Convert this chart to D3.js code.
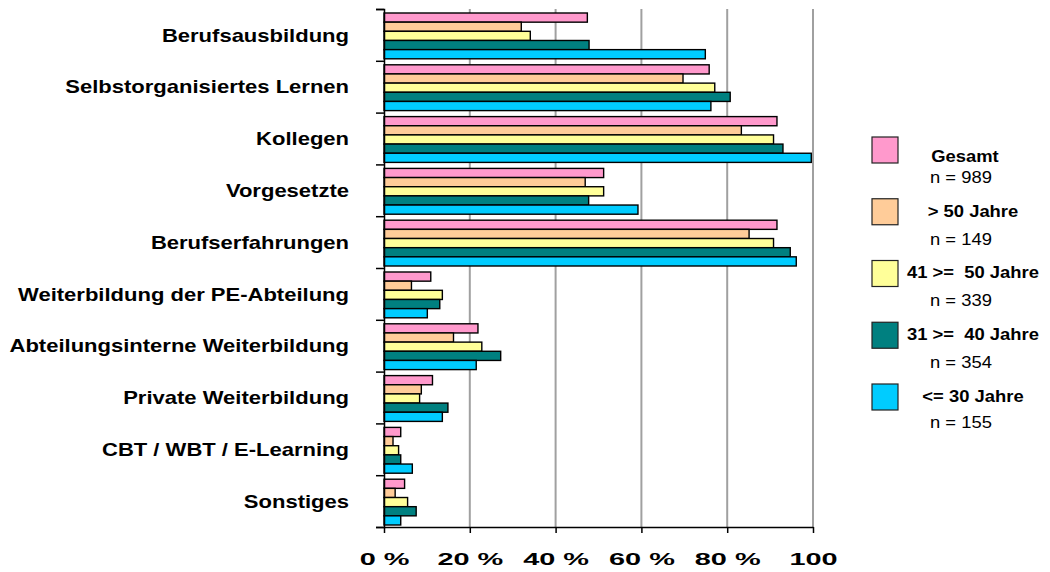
<!DOCTYPE html>
<html>
<head>
<meta charset="utf-8">
<script src="https://cdn.jsdelivr.net/npm/d3@7"></script>
<style>
  body { margin: 0; background: #fff; }
  text { font-family: "Liberation Sans", Arial, sans-serif; }
</style>
</head>
<body>
<script>
// categories, top to bottom
var categories = [
  "Berufsausbildung",
  "Selbstorganisiertes Lernen",
  "Kollegen",
  "Vorgesetzte",
  "Berufserfahrungen",
  "Weiterbildung der PE-Abteilung",
  "Abteilungsinterne Weiterbildung",
  "Private Weiterbildung",
  "CBT / WBT / E-Learning",
  "Sonstiges"
]

var seriesNames = ["Gesamt", "> 50 Jahre", "41 >=  50 Jahre", "31 >=  40 Jahre", "<= 30 Jahre"]
var seriesN = [989, 149, 339, 354, 155]
var seriesColors = ["#ff99cc", "#ffcc99", "#ffff99", "#008080", "#00ccff"]

// percent values per series, in category order
var gesamt   = [47.4, 75.8, 91.6, 51.2, 91.6, 10.9, 21.9, 11.3, 3.9, 4.8]
var ueber50  = [32.0, 69.7, 83.3, 46.9, 85.1, 6.4, 16.2, 8.7, 2.1, 2.6]
var j41bis50 = [34.1, 77.1, 90.8, 51.2, 90.8, 13.6, 22.8, 8.3, 3.4, 5.5]
var j31bis40 = [47.8, 80.7, 93.0, 47.7, 94.7, 13.0, 27.2, 14.9, 3.9, 7.5]
var bis30    = [74.9, 76.2, 99.6, 59.2, 96.1, 10.1, 21.5, 13.6, 6.6, 3.9]

var xTicks = [0, 20, 40, 60, 80, 100];

(function () {

var seriesValues = [gesamt, ueber50, j41bis50, j31bis40, bis30]

var width = 1050, height = 572
var plotLeft = 384, plotRight = 813, plotTop = 9, plotBottom = 527

var svg = d3.select("body").append("svg")
  .attr("width", width)
  .attr("height", height)

var x = d3.scaleLinear().domain([0, 100]).range([plotLeft, plotRight])
var y = d3.scaleBand().domain(categories).range([plotTop, plotBottom])
var ySub = d3.scaleBand().domain(seriesNames).range([4, y.bandwidth() - 2])
var yBounds = d3.scaleLinear().domain([0, categories.length]).range([plotTop, plotBottom])

// gridlines
svg.append("g")
  .selectAll("line")
  .data(xTicks.filter(function(d) { return d > 0 }))
  .enter().append("line")
  .attr("x1", function(d) { return x(d) })
  .attr("x2", function(d) { return x(d) })
  .attr("y1", plotTop)
  .attr("y2", plotBottom)
  .attr("stroke", "#a0a0a0")
  .attr("stroke-width", 2)

// bars
var groups = svg.append("g")
  .selectAll("g")
  .data(categories)
  .enter().append("g")
  .attr("transform", function(d) { return "translate(0," + y(d) + ")" })

groups.selectAll("rect")
  .data(function(d, i) {
    return seriesNames.map(function(s, j) {
      return { series: s, value: seriesValues[j][i], color: seriesColors[j] }
    })
  })
  .enter().append("rect")
  .attr("x", x(0))
  .attr("y", function(d) { return ySub(d.series) })
  .attr("width", function(d) { return x(d.value) - x(0) })
  .attr("height", ySub.bandwidth())
  .attr("fill", function(d) { return d.color })
  .attr("stroke", "#000")
  .attr("stroke-width", 1.4)

// y axis with boundary ticks
var yAxis = svg.append("g")
  .attr("transform", "translate(" + plotLeft + ",0)")
  .call(d3.axisLeft(yBounds).ticks(10).tickSize(8).tickFormat(""))
yAxis.select(".domain").attr("stroke", "#000").attr("stroke-width", 1.5)
yAxis.selectAll(".tick line").attr("stroke-width", 1.5)

// category labels
var ly = 1.19
var yLabels = svg.append("g")
  .attr("transform", "translate(" + plotLeft + ",0)")
  .call(d3.axisLeft(y).tickSize(0).tickPadding(0))
yLabels.select(".domain").remove()
yLabels.selectAll("text")
  .attr("x", -35 / ly)
  .attr("dy", "0.36em")
  .attr("transform", "scale(" + ly + ",1)")
  .style("font-size", "18.5px")
  .style("font-weight", "bold")
  .attr("fill", "#000")

// x axis
var xAxis = svg.append("g")
  .attr("transform", "translate(0," + plotBottom + ")")
  .call(d3.axisBottom(x).tickValues(xTicks).tickSize(6).tickSizeOuter(0)
    .tickFormat(function(d) { return d === 100 ? "100" : d + " %" }))
xAxis.select(".domain").attr("stroke-width", 1.5)
xAxis.selectAll(".tick line").attr("stroke-width", 1.5)
xAxis.selectAll("text")
  .attr("y", 38)
  .attr("dy", 0)
  .attr("transform", "scale(1.7,1)")
  .style("font-size", "17px")
  .style("font-weight", "bold")
  .attr("fill", "#000")

// legend
var legendY = d3.scalePoint().domain(seriesNames).range([137, 384])
var sx = 1.15

var legend = svg.append("g")
  .selectAll("g")
  .data(seriesNames)
  .enter().append("g")
  .attr("transform", function(d) { return "translate(0," + legendY(d) + ")" })

legend.append("rect")
  .attr("x", 872)
  .attr("y", 0)
  .attr("width", 26)
  .attr("height", 26)
  .attr("fill", function(d, i) { return seriesColors[i] })
  .attr("stroke", "#222")
  .attr("stroke-width", 1.2)

legend.append("text")
  .attr("x", function(d, i) { return (i === 0 ? 965 : 973) / sx })
  .attr("y", function(d, i) { return i === 0 ? 25 : 18 })
  .attr("transform", "scale(" + sx + ",1)")
  .attr("text-anchor", "middle")
  .attr("xml:space", "preserve")
  .style("white-space", "pre")
  .style("font-size", "16px")
  .style("font-weight", "bold")
  .text(function(d) { return d })

legend.append("text")
  .attr("x", 930 / sx)
  .attr("y", function(d, i) { return i === 4 ? 44 : 46 })
  .attr("transform", "scale(" + sx + ",1)")
  .style("font-size", "16px")
  .text(function(d, i) { return "n = " + seriesN[i] })

})()
</script>
</body>
</html>
